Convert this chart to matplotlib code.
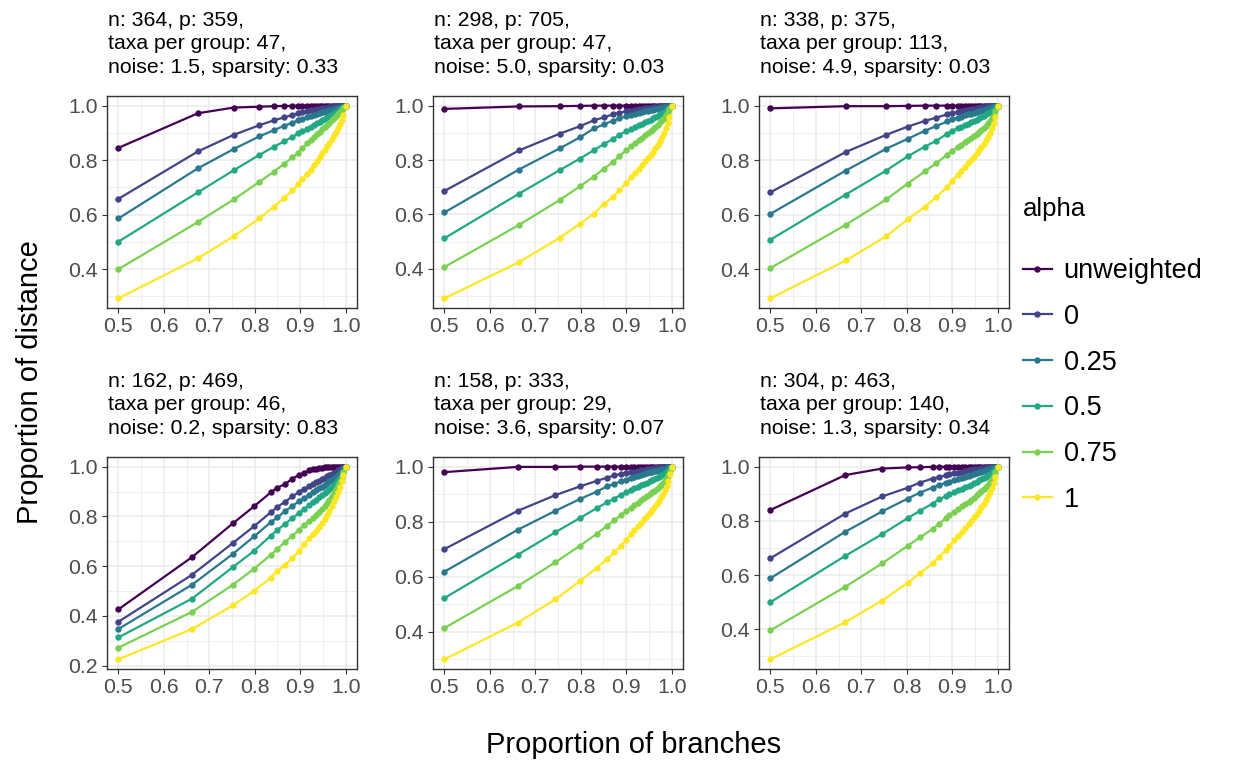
import matplotlib
matplotlib.use("Agg")
import matplotlib.pyplot as plt
from matplotlib.lines import Line2D
from matplotlib.ticker import MultipleLocator, FormatStrFormatter
import matplotlib.transforms as mtransforms

plt.rcParams['font.family'] = ['Liberation Sans', 'DejaVu Sans']

series_labels = ["unweighted", "0", "0.25", "0.5", "0.75", "1"]
colors = ["#440154", "#414487", "#2A788E", "#22A884", "#7AD151", "#FDE725"]

titles = [
    "n: 364, p: 359,\ntaxa per group: 47,\nnoise: 1.5, sparsity: 0.33",
    "n: 298, p: 705,\ntaxa per group: 47,\nnoise: 5.0, sparsity: 0.03",
    "n: 338, p: 375,\ntaxa per group: 113,\nnoise: 4.9, sparsity: 0.03",
    "n: 162, p: 469,\ntaxa per group: 46,\nnoise: 0.2, sparsity: 0.83",
    "n: 158, p: 333,\ntaxa per group: 29,\nnoise: 3.6, sparsity: 0.07",
    "n: 304, p: 463,\ntaxa per group: 140,\nnoise: 1.3, sparsity: 0.34",
]

# ---------------- Panel 1 ----------------
p1_x = [0.500, 0.675, 0.754, 0.810, 0.842, 0.865, 0.883, 0.896, 0.905, 0.916,
        0.923, 0.930, 0.937, 0.943, 0.949, 0.954, 0.959, 0.964, 0.969, 0.974,
        0.978, 0.983, 0.987, 0.991, 0.995, 1.000]
p1_unw = [0.845, 0.972, 0.993, 0.996, 0.998, 0.999, 0.999, 1.000, 1.000, 1.000,
          1.000, 1.000, 1.000, 1.000, 1.000, 1.000, 1.000, 1.000, 1.000, 1.000,
          1.000, 1.000, 1.000, 1.000, 1.000, 1.000]
p1_a0 = [0.658, 0.832, 0.893, 0.928, 0.946, 0.957, 0.966, 0.972, 0.976, 0.980,
         0.983, 0.985, 0.987, 0.989, 0.991, 0.992, 0.993, 0.994, 0.995, 0.996,
         0.997, 0.998, 0.998, 0.999, 0.999, 1.000]
p1_a25 = [0.586, 0.770, 0.841, 0.887, 0.910, 0.926, 0.938, 0.946, 0.951, 0.957,
          0.961, 0.965, 0.969, 0.972, 0.975, 0.978, 0.980, 0.983, 0.985, 0.987,
          0.989, 0.991, 0.993, 0.995, 0.997, 1.000]
p1_a50 = [0.501, 0.682, 0.763, 0.819, 0.849, 0.869, 0.886, 0.898, 0.906, 0.916,
          0.922, 0.929, 0.936, 0.941, 0.947, 0.952, 0.957, 0.962, 0.967, 0.972,
          0.977, 0.982, 0.986, 0.990, 0.995, 1.000]
p1_a75 = [0.400, 0.573, 0.656, 0.720, 0.758, 0.787, 0.810, 0.828, 0.844, 0.862,
          0.873, 0.884, 0.895, 0.905, 0.914, 0.922, 0.930, 0.938, 0.946, 0.954,
          0.961, 0.969, 0.976, 0.983, 0.991, 1.000]
p1_a100 = [0.293, 0.440, 0.521, 0.586, 0.629, 0.662, 0.689, 0.713, 0.732, 0.749,
           0.765, 0.782, 0.798, 0.812, 0.826, 0.838, 0.851, 0.864, 0.877, 0.891,
           0.903, 0.918, 0.932, 0.947, 0.967, 1.000]

# ---------------- Panel 2 ----------------
p2_x = [0.500, 0.664, 0.754, 0.798, 0.829, 0.851, 0.871, 0.885, 0.900, 0.911,
        0.920, 0.928, 0.935, 0.942, 0.948, 0.954, 0.959, 0.964, 0.969, 0.974,
        0.978, 0.983, 0.987, 0.991, 0.995, 1.000]
p2_unw = [0.988, 0.997, 0.998, 0.999, 1.000, 1.000, 1.000, 1.000, 1.000, 1.000,
          1.000, 1.000, 1.000, 1.000, 1.000, 1.000, 1.000, 1.000, 1.000, 1.000,
          1.000, 1.000, 1.000, 1.000, 1.000, 1.000]
p2_a0 = [0.686, 0.835, 0.897, 0.924, 0.946, 0.957, 0.968, 0.974, 0.979, 0.982,
         0.985, 0.987, 0.989, 0.990, 0.992, 0.993, 0.994, 0.995, 0.996, 0.997,
         0.997, 0.998, 0.999, 0.999, 1.000, 1.000]
p2_a25 = [0.607, 0.765, 0.843, 0.883, 0.916, 0.931, 0.945, 0.953, 0.961, 0.966,
          0.970, 0.973, 0.976, 0.979, 0.981, 0.983, 0.985, 0.987, 0.989, 0.991,
          0.992, 0.994, 0.995, 0.997, 0.998, 1.000]
p2_a50 = [0.512, 0.676, 0.763, 0.805, 0.836, 0.859, 0.877, 0.893, 0.905, 0.914,
          0.921, 0.927, 0.933, 0.938, 0.943, 0.948, 0.953, 0.958, 0.963, 0.968,
          0.972, 0.977, 0.982, 0.987, 0.993, 1.000]
p2_a75 = [0.406, 0.561, 0.653, 0.703, 0.739, 0.768, 0.792, 0.814, 0.836, 0.851,
          0.863, 0.873, 0.882, 0.891, 0.899, 0.907, 0.914, 0.922, 0.930, 0.939,
          0.946, 0.956, 0.966, 0.976, 0.988, 1.000]
p2_a100 = [0.291, 0.424, 0.514, 0.565, 0.603, 0.638, 0.664, 0.689, 0.716, 0.737,
           0.753, 0.768, 0.781, 0.795, 0.806, 0.818, 0.830, 0.843, 0.856, 0.870,
           0.883, 0.900, 0.917, 0.937, 0.960, 1.000]

# ---------------- Panel 3 ----------------
p3_x = [0.500, 0.666, 0.755, 0.802, 0.840, 0.865, 0.889, 0.900, 0.912, 0.920,
        0.928, 0.935, 0.942, 0.948, 0.954, 0.959, 0.964, 0.969, 0.974, 0.978,
        0.983, 0.987, 0.991, 0.995, 1.000]
p3_unw = [0.990, 0.998, 0.998, 0.999, 1.000, 1.000, 1.000, 1.000, 1.000, 1.000,
          1.000, 1.000, 1.000, 1.000, 1.000, 1.000, 1.000, 1.000, 1.000, 1.000,
          1.000, 1.000, 1.000, 1.000, 1.000]
p3_a0 = [0.682, 0.830, 0.893, 0.923, 0.944, 0.956, 0.968, 0.972, 0.977, 0.980,
         0.983, 0.985, 0.987, 0.989, 0.991, 0.992, 0.994, 0.995, 0.996, 0.997,
         0.998, 0.998, 0.999, 1.000, 1.000]
p3_a25 = [0.603, 0.762, 0.842, 0.878, 0.908, 0.925, 0.942, 0.950, 0.956, 0.960,
          0.964, 0.968, 0.971, 0.974, 0.977, 0.980, 0.982, 0.985, 0.987, 0.989,
          0.992, 0.994, 0.996, 0.998, 1.000]
p3_a50 = [0.508, 0.674, 0.762, 0.814, 0.850, 0.871, 0.897, 0.908, 0.917, 0.923,
          0.929, 0.934, 0.939, 0.944, 0.949, 0.953, 0.958, 0.963, 0.968, 0.972,
          0.977, 0.982, 0.987, 0.993, 1.000]
p3_a75 = [0.404, 0.563, 0.656, 0.714, 0.759, 0.789, 0.820, 0.835, 0.848, 0.857,
          0.866, 0.874, 0.882, 0.889, 0.897, 0.904, 0.911, 0.919, 0.927, 0.935,
          0.945, 0.955, 0.966, 0.981, 1.000]
p3_a100 = [0.293, 0.432, 0.521, 0.583, 0.629, 0.664, 0.702, 0.723, 0.747, 0.761,
           0.775, 0.788, 0.801, 0.813, 0.825, 0.836, 0.848, 0.860, 0.873, 0.885,
           0.901, 0.917, 0.936, 0.960, 1.000]

# ---------------- Panel 4 ----------------
p4_x = [0.500, 0.662, 0.752, 0.799, 0.835, 0.850, 0.866, 0.883, 0.897, 0.909,
        0.920, 0.928, 0.935, 0.942, 0.948, 0.954, 0.959, 0.964, 0.969, 0.974,
        0.978, 0.983, 0.987, 0.991, 0.995, 1.000]
p4_unw = [0.426, 0.636, 0.772, 0.841, 0.896, 0.916, 0.929, 0.952, 0.966, 0.976,
          0.985, 0.989, 0.992, 0.994, 0.996, 0.997, 0.998, 0.999, 0.999, 1.000,
          1.000, 1.000, 1.000, 1.000, 1.000, 1.000]
p4_a0 = [0.376, 0.565, 0.693, 0.761, 0.816, 0.838, 0.858, 0.880, 0.898, 0.911,
         0.922, 0.930, 0.937, 0.944, 0.950, 0.956, 0.961, 0.966, 0.971, 0.976,
         0.980, 0.985, 0.989, 0.993, 0.997, 1.000]
p4_a25 = [0.347, 0.525, 0.649, 0.720, 0.776, 0.796, 0.820, 0.842, 0.860, 0.874,
          0.887, 0.896, 0.905, 0.913, 0.920, 0.928, 0.934, 0.941, 0.947, 0.954,
          0.960, 0.967, 0.973, 0.980, 0.989, 1.000]
p4_a50 = [0.313, 0.469, 0.596, 0.662, 0.722, 0.745, 0.769, 0.793, 0.813, 0.830,
          0.845, 0.856, 0.866, 0.876, 0.885, 0.894, 0.902, 0.911, 0.919, 0.928,
          0.936, 0.946, 0.955, 0.966, 0.980, 1.000]
p4_a75 = [0.272, 0.416, 0.525, 0.590, 0.645, 0.669, 0.696, 0.722, 0.745, 0.764,
          0.782, 0.795, 0.807, 0.819, 0.830, 0.841, 0.853, 0.866, 0.880, 0.895,
          0.910, 0.928, 0.944, 0.960, 0.978, 1.000]
p4_a100 = [0.225, 0.347, 0.442, 0.501, 0.553, 0.580, 0.605, 0.632, 0.660, 0.689,
           0.712, 0.728, 0.743, 0.758, 0.772, 0.789, 0.805, 0.823, 0.842, 0.860,
           0.878, 0.900, 0.920, 0.942, 0.966, 1.000]

# ---------------- Panel 5 ----------------
p5_x = [0.500, 0.661, 0.744, 0.798, 0.835, 0.858, 0.874, 0.888, 0.900, 0.911,
        0.918, 0.926, 0.933, 0.940, 0.946, 0.952, 0.957, 0.962, 0.967, 0.972,
        0.977, 0.981, 0.985, 0.989, 0.993, 0.997, 1.000]
p5_unw = [0.980, 0.999, 0.999, 1.000, 1.000, 1.000, 1.000, 1.000, 1.000, 1.000,
          1.000, 1.000, 1.000, 1.000, 1.000, 1.000, 1.000, 1.000, 1.000, 1.000,
          1.000, 1.000, 1.000, 1.000, 1.000, 1.000, 1.000]
p5_a0 = [0.700, 0.839, 0.896, 0.928, 0.948, 0.960, 0.968, 0.973, 0.977, 0.980,
         0.982, 0.985, 0.987, 0.989, 0.990, 0.992, 0.993, 0.994, 0.995, 0.996,
         0.997, 0.998, 0.998, 0.999, 0.999, 1.000, 1.000]
p5_a25 = [0.618, 0.770, 0.839, 0.882, 0.909, 0.928, 0.938, 0.946, 0.953, 0.959,
          0.962, 0.966, 0.970, 0.973, 0.976, 0.979, 0.981, 0.983, 0.985, 0.987,
          0.989, 0.991, 0.993, 0.995, 0.997, 0.999, 1.000]
p5_a50 = [0.522, 0.679, 0.761, 0.813, 0.849, 0.870, 0.884, 0.897, 0.907, 0.916,
          0.921, 0.927, 0.932, 0.938, 0.942, 0.947, 0.951, 0.955, 0.960, 0.964,
          0.969, 0.973, 0.977, 0.982, 0.987, 0.994, 1.000]
p5_a75 = [0.413, 0.565, 0.652, 0.712, 0.755, 0.785, 0.805, 0.823, 0.839, 0.851,
          0.860, 0.869, 0.877, 0.885, 0.892, 0.900, 0.906, 0.913, 0.920, 0.927,
          0.935, 0.942, 0.950, 0.959, 0.969, 0.984, 1.000]
p5_a100 = [0.299, 0.432, 0.517, 0.583, 0.632, 0.664, 0.688, 0.712, 0.733, 0.755,
           0.769, 0.783, 0.796, 0.809, 0.820, 0.832, 0.842, 0.853, 0.864, 0.876,
           0.889, 0.901, 0.914, 0.929, 0.947, 0.972, 1.000]

# ---------------- Panel 6 ----------------
p6_x = [0.500, 0.665, 0.746, 0.802, 0.829, 0.857, 0.872, 0.887, 0.894, 0.905,
        0.913, 0.921, 0.929, 0.936, 0.942, 0.948, 0.954, 0.959, 0.964, 0.969,
        0.974, 0.978, 0.983, 0.987, 0.991, 0.995, 1.000]
p6_unw = [0.840, 0.969, 0.993, 0.997, 0.998, 0.999, 0.999, 1.000, 1.000, 1.000,
          1.000, 1.000, 1.000, 1.000, 1.000, 1.000, 1.000, 1.000, 1.000, 1.000,
          1.000, 1.000, 1.000, 1.000, 1.000, 1.000, 1.000]
p6_a0 = [0.662, 0.827, 0.890, 0.922, 0.941, 0.956, 0.962, 0.968, 0.971, 0.975,
         0.978, 0.981, 0.984, 0.986, 0.988, 0.990, 0.991, 0.993, 0.994, 0.995,
         0.996, 0.997, 0.998, 0.998, 0.999, 1.000, 1.000]
p6_a25 = [0.588, 0.760, 0.835, 0.882, 0.904, 0.923, 0.932, 0.941, 0.945, 0.951,
          0.955, 0.959, 0.963, 0.967, 0.970, 0.973, 0.976, 0.979, 0.982, 0.984,
          0.987, 0.989, 0.992, 0.994, 0.996, 0.998, 1.000]
p6_a50 = [0.500, 0.671, 0.751, 0.810, 0.837, 0.864, 0.880, 0.892, 0.898, 0.906,
          0.912, 0.918, 0.924, 0.929, 0.934, 0.939, 0.944, 0.949, 0.953, 0.958,
          0.963, 0.968, 0.974, 0.979, 0.985, 0.992, 1.000]
p6_a75 = [0.396, 0.557, 0.643, 0.708, 0.739, 0.770, 0.790, 0.812, 0.820, 0.833,
          0.843, 0.853, 0.862, 0.871, 0.878, 0.886, 0.894, 0.901, 0.909, 0.917,
          0.926, 0.934, 0.944, 0.954, 0.965, 0.980, 1.000]
p6_a100 = [0.289, 0.426, 0.506, 0.571, 0.607, 0.643, 0.668, 0.692, 0.708, 0.729,
           0.745, 0.760, 0.775, 0.789, 0.801, 0.813, 0.826, 0.838, 0.850, 0.863,
           0.877, 0.890, 0.906, 0.921, 0.940, 0.963, 1.000]

panels = [
    (p1_x, [p1_unw, p1_a0, p1_a25, p1_a50, p1_a75, p1_a100]),
    (p2_x, [p2_unw, p2_a0, p2_a25, p2_a50, p2_a75, p2_a100]),
    (p3_x, [p3_unw, p3_a0, p3_a25, p3_a50, p3_a75, p3_a100]),
    (p4_x, [p4_unw, p4_a0, p4_a25, p4_a50, p4_a75, p4_a100]),
    (p5_x, [p5_unw, p5_a0, p5_a25, p5_a50, p5_a75, p5_a100]),
    (p6_x, [p6_unw, p6_a0, p6_a25, p6_a50, p6_a75, p6_a100]),
]

W, H = 1241, 764
fig = plt.figure(figsize=(W / 100, H / 100), dpi=100)
fig.patch.set_facecolor("white")

col_left = [107, 433, 759]
row_top = [96, 457]
pw, ph = 250, 212

grid_col = "#EBEBEB"
border_col = "#333333"
tick_lab_col = "#4D4D4D"

LW = 1.6
MS = 4.6

for i, (xs, ys_list) in enumerate(panels):
    r, c = divmod(i, 3)
    left = col_left[c] / W
    bottom = 1 - (row_top[r] + ph) / H
    ax = fig.add_axes([left, bottom, pw / W, ph / H])
    for ys, col in zip(ys_list, colors):
        ax.plot(xs, ys, color=col, lw=LW, zorder=3, solid_capstyle="butt")
    for ys, col in zip(ys_list, colors):
        ax.plot(xs, ys, linestyle="none", marker="o", ms=MS, color=col,
                markeredgewidth=0, zorder=4)
    ax.margins(x=0.05, y=0.05)
    ax.xaxis.set_major_locator(MultipleLocator(0.1))
    ax.xaxis.set_minor_locator(MultipleLocator(0.05))
    ax.yaxis.set_major_locator(MultipleLocator(0.2))
    ax.yaxis.set_minor_locator(MultipleLocator(0.1))
    ax.xaxis.set_major_formatter(FormatStrFormatter("%.1f"))
    ax.yaxis.set_major_formatter(FormatStrFormatter("%.1f"))
    ax.grid(True, which="major", color=grid_col, lw=1.1, zorder=0)
    ax.grid(True, which="minor", color=grid_col, lw=0.55, zorder=0)
    ax.set_axisbelow(True)
    for s in ax.spines.values():
        s.set_color(border_col)
        s.set_linewidth(1.0)
    ax.tick_params(which="major", length=3.6, width=0.8, color=border_col,
                   labelsize=15.3, labelcolor=tick_lab_col, pad=2.8)
    ax.tick_params(which="minor", length=0)
    ax.text(0.0, 1.0, titles[i], transform=mtransforms.offset_copy(
                ax.transAxes, fig=fig, x=1, y=14, units="points"),
            ha="left", va="bottom", fontsize=15.3, linespacing=1.28, color="black")

fig.text(634 / W, 1 - 745 / H, "Proportion of branches", ha="center", va="center",
         fontsize=21)
fig.text(30 / W, 0.5, "Proportion of distance", ha="center", va="center",
         rotation=90, fontsize=21)

handles = [Line2D([0], [0], color=c, lw=LW, marker="o", ms=MS, markeredgewidth=0)
           for c in colors]
leg = fig.legend(handles, series_labels, loc="upper left",
                 bbox_to_anchor=(1009 / W, 1 - 183 / H), frameon=False,
                 title="alpha", title_fontsize=18.5, fontsize=19.5,
                 handlelength=1.1, handletextpad=0.42, labelspacing=0.73,
                 borderpad=0.0, alignment="left")
leg._legend_box.sep = 27

fig.savefig("out.png", dpi=100, facecolor="white")
